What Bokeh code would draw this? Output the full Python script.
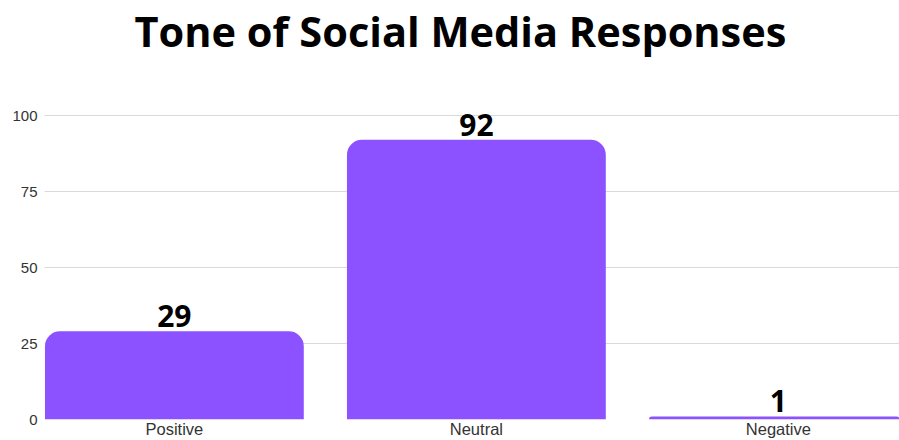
from bokeh.plotting import figure
from bokeh.models import Range1d, FixedTicker, ColumnDataSource
from bokeh.core.properties import value
from bokeh.embed import file_html
from bokeh.resources import INLINE

# Data
categories = ["Positive", "Neutral", "Negative"]
counts = [29, 92, 1]
y_ticks = [0, 25, 50, 75, 100]

positions = list(range(len(categories)))
source = ColumnDataSource(dict(
    x=positions,
    count=counts,
    label=[str(c) for c in counts],
))

p = figure(
    width=899, height=440,
    output_backend="svg", toolbar_location=None,
    x_range=Range1d(-0.43, 2.401),
    y_range=Range1d(0, 118.75),
    min_border_left=44, min_border_right=0, min_border_top=58, min_border_bottom=0,
    title="Tone of Social Media Responses",
)

p.title.text_font = "Open Sans"
p.title.text_font_size = "41.5px"
p.title.text_font_style = "bold"
p.title.text_color = "#000000"
p.title.align = "left"
p.title.offset = 90
p.title.standoff = 0

p.vbar(x="x", top="count", width=0.857, source=source,
       fill_color="#8c52ff", line_color=None, border_radius=(15, 15, 0, 0))

p.text(x="x", y="count", text="label", source=source,
       text_align="center", text_baseline="alphabetic", y_offset=-15,
       text_font=value("Open Sans"), text_font_style="bold",
       text_font_size="30px", text_color="#000000")

p.outline_line_color = None
p.background_fill_color = "white"
p.border_fill_color = "white"

p.xgrid.visible = False
p.ygrid.ticker = FixedTicker(ticks=y_ticks)
p.ygrid.grid_line_color = "#d9d9d9"
p.ygrid.grid_line_width = 1

p.yaxis.ticker = FixedTicker(ticks=y_ticks)
p.yaxis.axis_line_color = None
p.yaxis.major_tick_line_color = None
p.yaxis.minor_tick_line_color = None
p.yaxis.major_tick_out = 0
p.yaxis.major_tick_in = 0
p.yaxis.major_label_text_font = "Liberation Sans"
p.yaxis.major_label_text_font_size = "15px"
p.yaxis.major_label_text_color = "#333333"
p.yaxis.major_label_standoff = 7

p.xaxis.ticker = FixedTicker(ticks=positions)
p.xaxis.major_label_overrides = {i: c for i, c in enumerate(categories)}
p.xaxis.axis_line_color = None
p.xaxis.major_tick_line_color = None
p.xaxis.minor_tick_line_color = None
p.xaxis.major_tick_out = 0
p.xaxis.major_tick_in = 0
p.xaxis.major_label_text_font = "Liberation Sans"
p.xaxis.major_label_text_font_size = "16.5px"
p.xaxis.major_label_text_color = "#333333"
p.xaxis.major_label_standoff = 0

open("out.html", "w").write(file_html(p, INLINE))
